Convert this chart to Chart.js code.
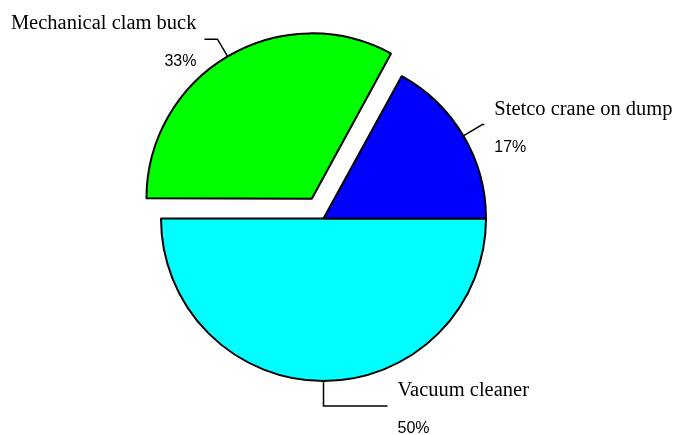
<!DOCTYPE html>
<html>
<head>
<meta charset="utf-8">
<script src="https://cdn.jsdelivr.net/npm/chart.js@4/dist/chart.umd.min.js"></script>
<style>
  html, body { margin: 0; padding: 0; background: #fff; }
  #wrap { width: 676px; height: 435px; position: relative; }
</style>
</head>
<body>
<div id="wrap"><canvas id="equipment"></canvas></div>
<script>
// slices go clockwise from 3 o'clock
let categories = ['Vacuum cleaner', 'Mechanical clam buck', 'Stetco crane on dump'];
let shares = [50, 33, 17];
let colorHex = ['#00ffff', '#00ff00', '#0000ff'];

// leader line per slice: radial length, horizontal length
let leaders = [
    { radial: 25, across: 64 },
    { radial: 20, across: 13 },
    { radial: 22, across: 2 }
];

let calloutLabels = {
    id: 'calloutLabels',
    afterDatasetsDraw(chart) {
        let ctx = chart.ctx;
        let meta = chart.getDatasetMeta(0);
        let values = chart.data.datasets[0].data;
        let total = values.reduce((a, b) => a + b, 0);

        ctx.save();
        meta.data.forEach((arc, i) => {
            let p = arc.getProps(['x', 'y', 'startAngle', 'endAngle', 'outerRadius', 'circumference']);
            let mid = (p.startAngle + p.endAngle) / 2;
            let cos = Math.cos(mid), sin = Math.sin(mid);
            // exploded slices are shifted by offset / 4 and grown a little
            let shift = (arc.options.offset || 0) / 4;
            let grow = shift * (1 - Math.sin(Math.min(Math.PI, p.circumference)));
            let r = p.outerRadius + grow;
            let sx = p.x + cos * (shift + r);
            let sy = p.y + sin * (shift + r);
            let ex = sx + cos * leaders[i].radial;
            let ey = sy + sin * leaders[i].radial;
            let left = cos < -0.01;
            let hx = ex + (left ? -1 : 1) * leaders[i].across;

            ctx.strokeStyle = '#000';
            ctx.lineWidth = 1.5;
            ctx.beginPath();
            ctx.moveTo(sx, sy);
            ctx.lineTo(ex, ey);
            ctx.lineTo(hx, ey);
            ctx.stroke();

            let tx = left ? hx - 8 : hx + 10;
            ctx.textAlign = left ? 'right' : 'left';
            ctx.textBaseline = 'alphabetic';
            ctx.fillStyle = '#000';
            ctx.font = '20.5px "Liberation Serif", "Times New Roman", serif';
            ctx.fillText(chart.data.labels[i], tx, ey - 10);
            ctx.font = '16px "Liberation Sans", Arial, sans-serif';
            ctx.fillText(Math.round(values[i] / total * 100) + '%', tx, ey + 27);
        });
        ctx.restore();
    }
};

let ctx = document.getElementById('equipment').getContext('2d');

let pieEquipment = new Chart(ctx, {
    type: 'pie',
    data: {
        labels: categories,
        datasets: [{
            data: shares,
            backgroundColor: colorHex,
            borderColor: '#000',
            borderWidth: 2,
            offset: [0, 92, 0]
        }]
    },
    options: {
        responsive: true,
        maintainAspectRatio: false,
        animation: false,
        rotation: 90,
        radius: 162.5,
        layout: {
            padding: { left: 0, right: 29, top: 2, bottom: 0 }
        },
        plugins: {
            legend: { display: false },
            tooltip: { enabled: false }
        }
    },
    plugins: [calloutLabels]
});
</script>
</body>
</html>
